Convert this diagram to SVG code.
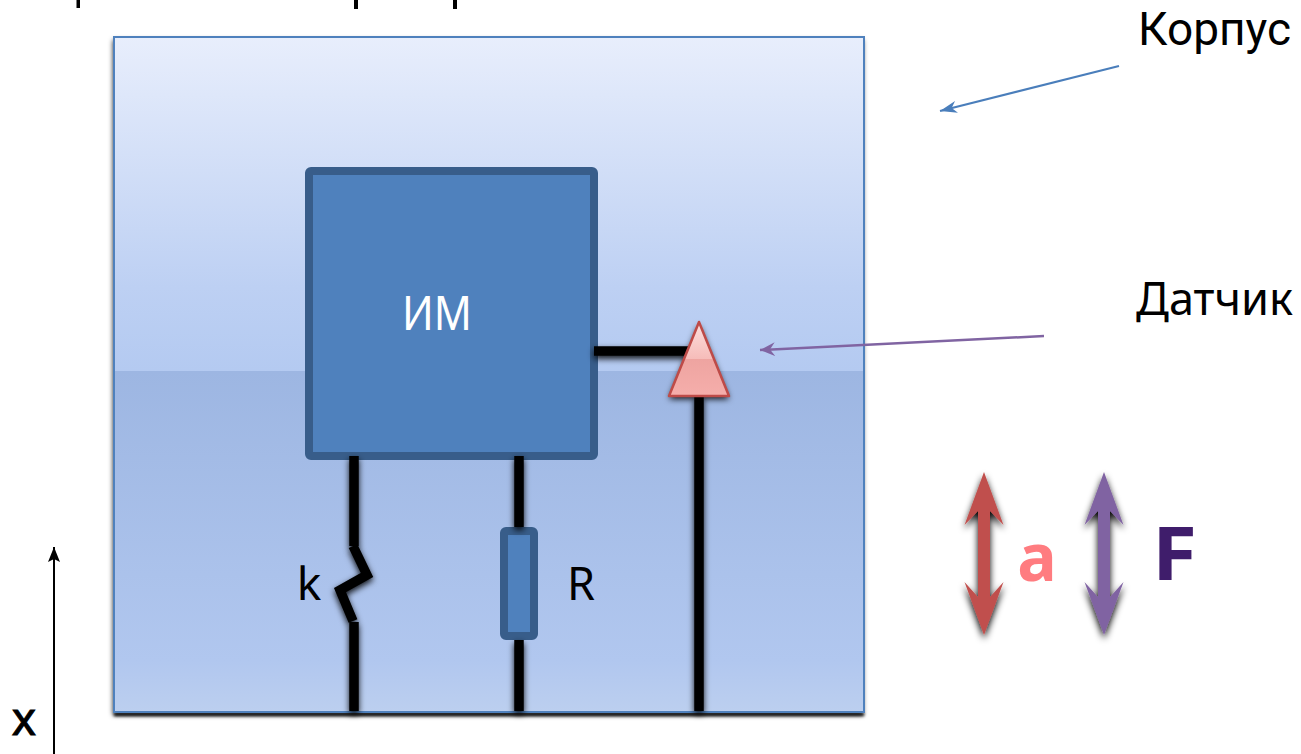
<svg xmlns="http://www.w3.org/2000/svg" width="1301" height="754" viewBox="0 0 1301 754">
<style>
text{font-family:"Noto Sans","Open Sans","DejaVu Sans",sans-serif}
.t{font-size:46px;fill:#000}
.r{font-family:Roboto,"Noto Sans",sans-serif;font-size:47px;fill:#000}
.w{fill:none;stroke:#000;stroke-width:9.500}
.ws{filter:url(#sh)}
</style>
<defs>
<linearGradient id="g1" x1="0" y1="0" x2="0" y2="1">
<stop offset="0" stop-color="#e8eefc"/><stop offset="0.75" stop-color="#bdd0f3"/><stop offset="1" stop-color="#b4caf1"/>
</linearGradient>
<linearGradient id="g2" x1="0" y1="0" x2="0" y2="1">
<stop offset="0" stop-color="#9db6e2"/><stop offset="0.85" stop-color="#b1c7ef"/><stop offset="1" stop-color="#bccfef"/>
</linearGradient>
<linearGradient id="tri1" x1="0" y1="0" x2="0" y2="1">
<stop offset="0" stop-color="#fde0de"/><stop offset="1" stop-color="#f6bcb9"/>
</linearGradient>
<linearGradient id="tri2" x1="0" y1="0" x2="0" y2="1">
<stop offset="0" stop-color="#e79a96"/><stop offset="1" stop-color="#f5aeab"/>
</linearGradient>
<filter id="sh" filterUnits="userSpaceOnUse" x="0" y="0" width="1301" height="754">
<feDropShadow dx="0" dy="3" stdDeviation="3" flood-color="#000" flood-opacity="0.9"/>
</filter>
<filter id="sh3" filterUnits="userSpaceOnUse" x="0" y="0" width="1301" height="754">
<feDropShadow dx="0" dy="4" stdDeviation="3.500" flood-color="#000" flood-opacity="1"/>
</filter>
<filter id="sh2" filterUnits="userSpaceOnUse" x="0" y="0" width="1301" height="754">
<feDropShadow dx="-1" dy="3" stdDeviation="2.500" flood-color="#000" flood-opacity="0.85"/>
</filter>
<filter id="bl" filterUnits="userSpaceOnUse" x="0" y="690" width="1301" height="50">
<feGaussianBlur stdDeviation="1.500"/>
</filter>
<marker id="mb" markerWidth="20" markerHeight="12" refX="17" refY="6" orient="auto" markerUnits="userSpaceOnUse"><path d="M17 6L0 0L5 6L0 12Z" fill="#4a7ebb"/></marker>
<marker id="mp" markerWidth="20" markerHeight="14" refX="15" refY="7" orient="auto" markerUnits="userSpaceOnUse"><path d="M15 7L0 0L5 7L0 14Z" fill="#8064a2"/></marker>
<marker id="mk" markerWidth="16" markerHeight="14" refX="15" refY="6" orient="auto" markerUnits="userSpaceOnUse"><path d="M15 6L0 0L3 6L0 12Z" fill="#000"/></marker>
</defs>

<g id="fragments">
<rect x="76.500" y="0" width="3.500" height="8" fill="#000"/>
<rect x="354" y="0" width="4" height="9" fill="#000"/>
<rect x="453" y="0" width="4" height="9" fill="#000"/>
</g>

<g id="housing">
<rect x="114" y="37" width="750" height="675" fill="#fff" filter="url(#sh2)"/>
<rect x="114" y="713" width="750" height="3" fill="#000" filter="url(#bl)"/>
<rect x="114" y="37" width="750" height="334" fill="url(#g1)"/>
<rect x="114" y="371" width="750" height="341" fill="url(#g2)"/>
<rect x="114" y="37" width="750" height="675" fill="none" stroke="#4f81bd" stroke-width="2"/>
</g>

<g id="mass">
<rect x="309" y="171" width="285" height="285" rx="2" fill="#4f81bd" stroke="#385d8a" stroke-width="8" stroke-linejoin="round"/>
<text x="402" y="330" font-size="48" fill="#fff" textLength="70" lengthAdjust="spacingAndGlyphs">ИМ</text>
</g>

<g id="resistor">
<rect x="504" y="531" width="30" height="105" rx="2" fill="#4f81bd" stroke="#385d8a" stroke-width="8" stroke-linejoin="round"/>
<text x="567" y="600" class="t" textLength="28" lengthAdjust="spacingAndGlyphs">R</text>
</g>

<g id="connectors">
<path class="w ws" d="M354 456V546M354 622V711"/>
<path class="w ws" d="M353 546L367 575L340 590L353 621" style="stroke-linejoin:miter"/>
<path class="w ws" d="M519 456V527M519 640V711"/>
<path class="w ws" d="M594 351H690"/>
<path class="w ws" d="M699 396V711"/>
<path d="M1119 66L940 111" fill="none" stroke="#4a7ebb" stroke-width="2" marker-end="url(#mb)"/>
<path d="M1044 336L760 350" fill="none" stroke="#8064a2" stroke-width="2.500" marker-end="url(#mp)"/>
<path d="M54 754V547" fill="none" stroke="#000" stroke-width="2" marker-end="url(#mk)"/>
</g>

<g id="sensor">
<path d="M699 322L729 396H669Z" fill="url(#tri2)" filter="url(#sh)"/>
<path d="M699 322L713.500 359H684.500Z" fill="url(#tri1)"/>
<path d="M699 322L729 396H669Z" fill="none" stroke="#be4b48" stroke-width="2.500" stroke-linejoin="round"/>
</g>

<g id="spring-label"><text x="309" y="600" class="t" text-anchor="middle">k</text></g>

<g id="labels">
<text x="1138" y="45" class="r" textLength="153" lengthAdjust="spacingAndGlyphs">Корпус</text>
<text x="1136" y="315" class="t" textLength="157" lengthAdjust="spacingAndGlyphs">Датчик</text>
<text x="24" y="735" font-size="46" fill="#000" stroke="#000" stroke-width="1" text-anchor="middle">x</text>
</g>

<g id="accel">
<path d="M984 472L1003.500 525L990 511V597L1003.500 582L984 635L964.500 582L978 597V511L964.500 525Z" fill="#c0504d" filter="url(#sh3)"/>
<text x="1037" y="581" font-size="66" font-weight="700" fill="#ff7c80" text-anchor="middle">a</text>
</g>

<g id="force">
<path d="M1104 472L1123.500 525L1110 511V597L1123.500 582L1104 635L1084.500 582L1098 597V511L1084.500 525Z" fill="#8064a2" filter="url(#sh3)"/>
<text x="1152" y="580" font-size="74" font-weight="700" fill="#3f1d6b" textLength="45" lengthAdjust="spacingAndGlyphs">F</text>
</g>
</svg>
